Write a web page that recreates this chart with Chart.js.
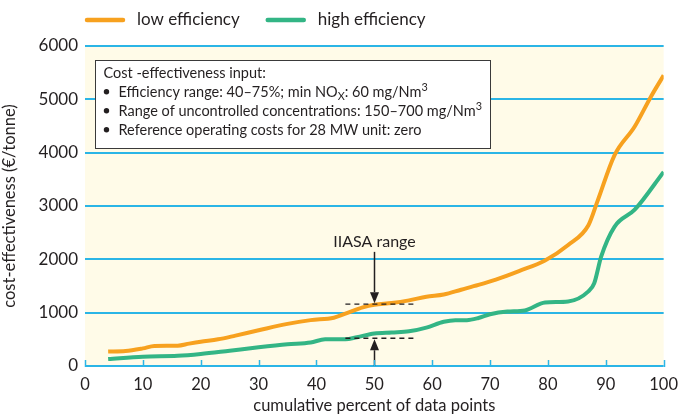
<!DOCTYPE html>
<html>
<head>
<meta charset="utf-8">
<script src="https://cdn.jsdelivr.net/npm/chart.js@4.4.1/dist/chart.umd.min.js"></script>
<style>
  html, body { margin: 0; padding: 0; background: #fff; }
  #wrap { width: 679px; height: 416px; }
</style>
</head>
<body>
<div id="wrap"><canvas id="chart" width="679" height="416"></canvas></div>
<script>
// Datos
const lowX  = [4, 7, 10, 12, 16, 18, 20, 23, 26, 30, 35, 39, 43, 45, 48, 50, 53, 56, 59, 62, 65, 68, 71, 75, 79.5, 83.5, 87, 88.6, 91.5, 95, 97.8, 100];
const lowY  = [270, 280, 330, 375, 380, 420, 456, 500, 570, 670, 790, 860, 906, 980, 1100, 1150, 1180, 1230, 1300, 1340, 1430, 1520, 1620, 1780, 1980, 2270, 2640, 3100, 3950, 4490, 5050, 5450];
const highX = [4, 10, 16, 20, 25, 30, 35, 39, 41.5, 45, 47, 50, 53, 56, 59, 62, 64, 66, 68, 70, 73, 76, 79.5, 83.5, 87, 88, 89.2, 91.5, 95, 100];
const highY = [130, 175, 190, 225, 287, 350, 406, 440, 500, 500, 540, 610, 630, 650, 720, 830, 860, 860, 900, 970, 1020, 1040, 1190, 1210, 1400, 1550, 2050, 2610, 2930, 3640];
const seriesNames = ["low efficiency", "high efficiency"];

// Rango IIASA (valores en el eje)
const iiasaX = 50;
const iiasaHigh = 1160;
const iiasaLow = 520;
const iiasaFrom = 45;
const iiasaTo = 57;

const ORANGE = "#F7A11F";
const GREEN = "#33B585";
const CYAN = "#2BB5E6";
const TEXT = "#231F20";
const FONT = "Lato, 'Open Sans', sans-serif";

const toPoints = (xs, ys) => xs.map((x, i) => ({ x, y: ys[i] }));

/**
 * Fondo crema del área del gráfico, marcas del eje x y leyenda superior
 */
const backgroundPlugin = {
  id: "fondo",
  beforeDraw(chart) {
    const { ctx, chartArea: a } = chart;
    ctx.save();
    ctx.fillStyle = "#FFFBE8";
    ctx.fillRect(a.left, a.top, a.right - a.left, a.bottom - a.top);
    ctx.restore();
  },
  afterDraw(chart) {
    const { ctx, scales, chartArea: a } = chart;
    const xs = scales.x;
    const y0 = scales.y.getPixelForValue(0);
    ctx.save();
    ctx.strokeStyle = CYAN;
    ctx.lineWidth = 1.5;
    xs.ticks.forEach((t) => {
      const px = Math.round(xs.getPixelForValue(t.value)) + 0.5;
      ctx.beginPath();
      ctx.moveTo(px, y0 - 6);
      ctx.lineTo(px, y0 + 1);
      ctx.stroke();
    });

    // leyenda
    ctx.font = `17px ${FONT}`;
    ctx.textBaseline = "middle";
    ctx.lineCap = "round";
    ctx.lineWidth = 4.5;
    let lx = a.left + 2;
    const ly = 20;
    chart.data.datasets.forEach((ds) => {
      ctx.strokeStyle = ds.borderColor;
      ctx.beginPath();
      ctx.moveTo(lx, ly);
      ctx.lineTo(lx + 36, ly);
      ctx.stroke();
      ctx.fillStyle = TEXT;
      ctx.fillText(ds.label, lx + 50, ly);
      lx += 50 + ctx.measureText(ds.label).width + 28;
    });
    ctx.restore();
  },
};

/**
 * Dibuja una flecha vertical con punta rellena
 */
const drawArrow = (ctx, x, yFrom, yTo) => {
  const dir = yTo > yFrom ? 1 : -1;
  const head = 11;
  ctx.beginPath();
  ctx.moveTo(x, yFrom);
  ctx.lineTo(x, yTo - dir * head);
  ctx.stroke();
  ctx.beginPath();
  ctx.moveTo(x, yTo);
  ctx.lineTo(x - 4.5, yTo - dir * head);
  ctx.lineTo(x + 4.5, yTo - dir * head);
  ctx.closePath();
  ctx.fill();
};

/**
 * Texto con partes en subíndice / superíndice
 */
const drawRich = (ctx, parts, x, y, size) => {
  let cx = x;
  parts.forEach(([txt, kind]) => {
    const s = kind ? size * 0.75 : size;
    const dy = kind === "sub" ? size * 0.22 : kind === "sup" ? -size * 0.4 : 0;
    ctx.font = `${s}px ${FONT}`;
    ctx.fillText(txt, cx, y + dy);
    cx += ctx.measureText(txt).width;
  });
};

const annotationPlugin = {
  id: "anotaciones",
  afterDatasetsDraw(chart) {
    const { ctx, scales, chartArea: a } = chart;
    const xs = scales.x, ys = scales.y;
    const ax = Math.round(xs.getPixelForValue(iiasaX)) + 0.5;
    const yHi = ys.getPixelForValue(iiasaHigh);
    const yLo = ys.getPixelForValue(iiasaLow);
    const x1 = xs.getPixelForValue(iiasaFrom);
    const x2 = xs.getPixelForValue(iiasaTo);

    ctx.save();
    ctx.strokeStyle = TEXT;
    ctx.fillStyle = TEXT;

    // líneas discontinuas del rango
    ctx.lineWidth = 1.3;
    ctx.setLineDash([5, 4]);
    [yHi, yLo].forEach((py) => {
      ctx.beginPath();
      ctx.moveTo(x1, py);
      ctx.lineTo(x2, py);
      ctx.stroke();
    });
    ctx.setLineDash([]);

    // flechas
    ctx.lineWidth = 1.5;
    drawArrow(ctx, ax, ys.getPixelForValue(2140), yHi - 1);
    drawArrow(ctx, ax, ys.getPixelForValue(0), yLo + 1);

    // etiqueta
    ctx.font = `16px ${FONT}`;
    ctx.textAlign = "center";
    ctx.textBaseline = "middle";
    ctx.fillText("IIASA range", ax, ys.getPixelForValue(2330));

    // cuadro de información
    const bx = a.left + 10.5, by = a.top + 14.5, bw = 395, bh = 88;
    ctx.fillStyle = "#fff";
    ctx.fillRect(bx, by, bw, bh);
    ctx.strokeStyle = "#3a3a3a";
    ctx.lineWidth = 1;
    ctx.strokeRect(bx, by, bw, bh);

    ctx.fillStyle = TEXT;
    ctx.textAlign = "left";
    ctx.textBaseline = "alphabetic";
    const size = 14.5;
    ctx.font = `${size}px ${FONT}`;
    ctx.fillText("Cost -effectiveness input:", bx + 8, by + 17);

    const rows = [
      [["Efficiency range: 40–75%; min NO"], ["X", "sub"], [": 60 mg/Nm"], ["3", "sup"]],
      [["Range of uncontrolled concentrations: 150–700 mg/Nm"], ["3", "sup"]],
      [["Reference operating costs for 28 MW unit: zero"]],
    ];
    rows.forEach((parts, i) => {
      const ty = by + 36 + i * 19;
      ctx.beginPath();
      ctx.arc(bx + 11, ty - 4.8, 2.7, 0, Math.PI * 2);
      ctx.fill();
      drawRich(ctx, parts, bx + 23, ty, size);
    });

    ctx.restore();
  },
};

const ctx = document.getElementById("chart").getContext("2d");
new Chart(ctx, {
  type: "line",
  data: {
    datasets: [
      {
        label: seriesNames[0],
        data: toPoints(lowX, lowY),
        borderColor: ORANGE,
        backgroundColor: ORANGE,
        borderWidth: 4,
        pointRadius: 0,
        cubicInterpolationMode: "monotone",
      },
      {
        label: seriesNames[1],
        data: toPoints(highX, highY),
        borderColor: GREEN,
        backgroundColor: GREEN,
        borderWidth: 4,
        pointRadius: 0,
        cubicInterpolationMode: "monotone",
      },
    ],
  },
  options: {
    responsive: false,
    animation: false,
    layout: { padding: { right: 8, top: 46 } },
    plugins: {
      legend: { display: false },
      tooltip: { enabled: false },
    },
    scales: {
      x: {
        type: "linear",
        min: 0,
        max: 100,
        ticks: { stepSize: 10, color: TEXT, font: { family: FONT, size: 16.5 }, padding: 1 },
        grid: { display: false },
        border: { display: false },
        title: { display: true, text: "cumulative percent of data points", color: TEXT, font: { family: FONT, size: 16.5 }, padding: 0 },
        afterFit: (s) => { s.height = 50; },
      },
      y: {
        min: 0,
        max: 6000,
        ticks: { stepSize: 1000, color: TEXT, font: { family: FONT, size: 17 }, padding: 7, callback: (v) => String(v) },
        grid: { color: CYAN, lineWidth: 2, drawTicks: false },
        border: { display: false },
        title: { display: true, text: "cost-effectiveness (€/tonne)", color: TEXT, font: { family: FONT, size: 16.5 }, padding: 0 },
        afterFit: (s) => { s.width = 85; },
      },
    },
  },
  plugins: [backgroundPlugin, annotationPlugin],
});
</script>
</body>
</html>
